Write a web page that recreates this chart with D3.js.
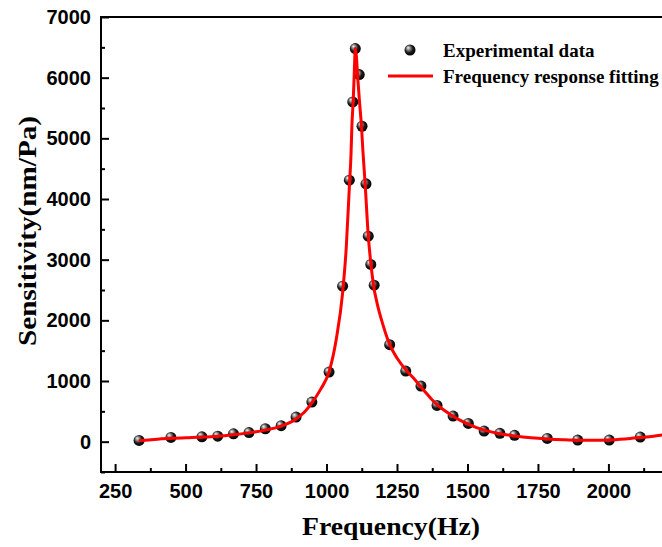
<!DOCTYPE html>
<html>
<head>
<meta charset="utf-8">
<script src="https://cdn.jsdelivr.net/npm/d3@7"></script>
<style>
  body { margin: 0; background: #fff; }
  svg { display: block; font-family: "Liberation Serif", "Times New Roman", serif; font-weight: bold; }
</style>
</head>
<body>
<svg id="chart" width="662" height="547"></svg>
<script>
// measured points (Hz, nm/Pa)
const expFreq = [335, 448, 558, 614, 670, 725, 783, 839, 892, 948, 1009, 1057, 1081, 1093, 1102, 1116, 1126, 1140, 1148, 1157, 1169, 1224, 1281, 1335, 1392, 1449, 1503, 1559, 1615, 1667, 1783, 1891, 2003, 2113]
const expSens = [20, 70, 80, 90, 130, 150, 213, 263, 405, 652, 1147, 2563, 4310, 5600, 6480, 6051, 5199, 4250, 3387, 2921, 2580, 1598, 1163, 916, 598, 422, 301, 175, 137, 104, 54, 26, 26, 76]

// fitted curve
const fitFreq = [335, 400, 448, 500, 558, 614, 670, 725, 783, 839, 892, 920, 948, 980, 1009, 1035, 1057, 1070, 1081, 1087, 1090, 1095, 1099, 1102, 1106, 1110, 1117, 1124, 1129, 1137, 1148, 1157, 1166, 1181, 1200, 1225, 1250, 1282, 1310, 1335, 1365, 1392, 1420, 1449, 1475, 1503, 1530, 1559, 1615, 1667, 1725, 1783, 1840, 1891, 1950, 2003, 2060, 2113, 2160, 2200, 2260]
const fitSens = [15, 40, 55, 65, 75, 90, 115, 145, 190, 255, 375, 480, 640, 870, 1150, 1700, 2450, 3200, 4200, 4750, 5200, 5650, 6150, 6480, 6350, 6050, 5600, 5200, 4800, 4250, 3400, 2950, 2600, 2250, 1930, 1590, 1380, 1180, 1040, 900, 740, 610, 510, 420, 350, 290, 235, 190, 130, 95, 65, 45, 32, 25, 24, 28, 45, 68, 90, 115, 150]

const xMajor = [250, 500, 750, 1000, 1250, 1500, 1750, 2000, 2250]
const xMinor = [375, 625, 875, 1125, 1375, 1625, 1875, 2125]
const yMajor = [0, 1000, 2000, 3000, 4000, 5000, 6000, 7000]
const yMinor = [-500, 500, 1500, 2500, 3500, 4500, 5500, 6500]

const svg = d3.select("#chart")
const plotL = 101, plotR = 682, plotT = 17, plotB = 472

const x = d3.scaleLinear().domain([200, 2261]).range([plotL, plotR])
const y = d3.scaleLinear().domain([-500, 7000]).range([plotB, plotT])

// sphere look for the dots
const grad = svg.append("defs").append("radialGradient")
  .attr("id", "ball").attr("cx", "45%").attr("cy", "45%").attr("r", "60%")
  .attr("fx", "32%").attr("fy", "28%")
grad.append("stop").attr("offset", "0%").attr("stop-color", "#f4f4f4")
grad.append("stop").attr("offset", "25%").attr("stop-color", "#9a9a9a")
grad.append("stop").attr("offset", "60%").attr("stop-color", "#1a1a1a")
grad.append("stop").attr("offset", "100%").attr("stop-color", "#000")

//axes
const xAxis = svg.append("g")
  .attr("transform", "translate(0," + plotB + ")")
  .call(d3.axisBottom(x).tickValues(xMajor.filter(d => d <= 2000)).tickFormat(d3.format("d"))
    .tickSizeInner(-8).tickSizeOuter(0).tickPadding(12))
xAxis.select(".domain").remove()
xAxis.selectAll("line").attr("stroke-width", 2)
xAxis.selectAll("text").attr("font-size", 20).attr("fill", "#000")

svg.append("g")
  .attr("transform", "translate(0," + plotB + ")")
  .call(d3.axisBottom(x).tickValues(xMinor).tickSize(-4).tickFormat(""))
  .call(g => g.select(".domain").remove())
  .selectAll("line").attr("stroke-width", 2)

const yAxis = svg.append("g")
  .attr("transform", "translate(" + plotL + ",0)")
  .call(d3.axisLeft(y).tickValues(yMajor).tickFormat(d3.format("d"))
    .tickSizeInner(-8).tickSizeOuter(0).tickPadding(10))
yAxis.select(".domain").remove()
yAxis.selectAll("line").attr("stroke-width", 2)
yAxis.selectAll("text").attr("font-size", 20).attr("fill", "#000")

svg.append("g")
  .attr("transform", "translate(" + plotL + ",0)")
  .call(d3.axisLeft(y).tickValues(yMinor).tickSize(-4).tickFormat(""))
  .call(g => g.select(".domain").remove())
  .selectAll("line").attr("stroke-width", 2)

// frame
svg.append("rect")
  .attr("x", plotL).attr("y", plotT)
  .attr("width", plotR - plotL).attr("height", plotB - plotT)
  .attr("fill", "none").attr("stroke", "#000").attr("stroke-width", 2)

// titles
svg.append("text")
  .attr("x", 391).attr("y", 535)
  .attr("text-anchor", "middle").attr("font-size", 26)
  .attr("textLength", 178).attr("lengthAdjust", "spacingAndGlyphs")
  .text("Frequency(Hz)")

svg.append("text")
  .attr("transform", "translate(36,231) rotate(-90)")
  .attr("text-anchor", "middle").attr("font-size", 26)
  .attr("textLength", 230).attr("lengthAdjust", "spacingAndGlyphs")
  .text("Sensitivity(nm/Pa)")

// data
const pts = expFreq.map((f, i) => ({ f, v: expSens[i] }))
const fit = fitFreq.map((f, i) => ({ f, v: fitSens[i] }))

svg.append("g").selectAll("circle")
  .data(pts)
  .join("circle")
  .attr("cx", d => x(d.f))
  .attr("cy", d => y(d.v))
  .attr("r", 5.5)
  .attr("fill", "url(#ball)")

const line = d3.line()
  .x(d => x(d.f))
  .y(d => y(d.v))
  .curve(d3.curveMonotoneX)

svg.append("path")
  .datum(fit)
  .attr("d", line)
  .attr("fill", "none")
  .attr("stroke", "#ff0000")
  .attr("stroke-width", 3)
  .attr("stroke-linejoin", "round")

// legend
const lg = svg.append("g").attr("font-size", 19)
lg.append("circle").attr("cx", 410).attr("cy", 50).attr("r", 5.5).attr("fill", "url(#ball)")
lg.append("text").attr("x", 443).attr("y", 57).text("Experimental data")
lg.append("line").attr("x1", 388).attr("x2", 433).attr("y1", 76).attr("y2", 76)
  .attr("stroke", "#ff0000").attr("stroke-width", 3)
lg.append("text").attr("x", 443).attr("y", 83).text("Frequency response fitting")
</script>
</body>
</html>
